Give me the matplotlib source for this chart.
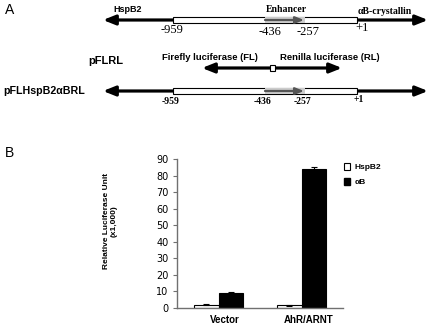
import numpy as np
import matplotlib.pyplot as plt
from matplotlib.patches import Rectangle, Patch

# relative luciferase units (x1,000)
groups = ['Vector', 'AhR/ARNT']
hspb2 = [2.0, 1.6]
hspb2_err = [0.2, 0.2]
ab = [9.2, 83.8]
ab_err = [0.5, 1.3]
y_ticks = list(range(0, 100, 10))

# landmarks on the promoter schematic (schematic x, not to scale)
site_labels = ['-959', '-436', '-257', '+1']
site_x = [173, 265, 305, 357]

SANS = 'Liberation Sans'
SERIF = 'Liberation Serif'

fig = plt.figure(figsize=(4.3, 3.26), dpi=100)

# panel A drawn on a full-figure axes in pixel units
top = fig.add_axes([0, 0, 1, 1])
top.set_xlim(0, 430)
top.set_ylim(326, 0)
top.axis('off')

head = '-|>,head_length=0.6,head_width=0.24'


def arrow(x0, x1, y, color='k', lw=2.3, ms=12):
    top.annotate('', xy=(x1, y), xytext=(x0, y),
                 arrowprops=dict(arrowstyle=head, color=color, lw=lw,
                                 mutation_scale=ms, shrinkA=0, shrinkB=0))


def construct(y):
    arrow(site_x[0], 103, y)
    arrow(site_x[3], 428, y)
    top.add_patch(Rectangle((site_x[0], y - 3), site_x[3] - site_x[0], 6,
                            fc='white', ec='k', lw=0.8, zorder=3))
    top.add_patch(Rectangle((site_x[1], y - 2.6), site_x[2] - site_x[1], 5.2,
                            fc='#cccccc', ec='none', zorder=4))
    top.annotate('', xy=(site_x[2] - 1, y), xytext=(site_x[1], y), zorder=5,
                 arrowprops=dict(arrowstyle='-|>,head_length=0.5,head_width=0.2',
                                 color='#555555', lw=1.6, mutation_scale=10,
                                 shrinkA=0, shrinkB=0))


top.text(5, 10, 'A', fontsize=10, family=SANS, va='center')
top.text(5, 153, 'B', fontsize=10, family=SANS, va='center')

# row 1: genomic region
construct(20)
top.text(128, 10, 'HspB2', fontsize=6.5, family=SANS, weight='bold', ha='center', va='center')
top.text(286, 9.5, 'Enhancer', fontsize=7, family=SERIF, weight='bold', ha='center', va='center')
top.text(358, 12, 'αB-crystallin', fontsize=7, family=SERIF, weight='bold', ha='left', va='center')
for lab, x, dx, dy in zip(site_labels, site_x, [-1, 5, 3, 5], [30, 32, 32, 28]):
    top.text(x + dx, dy, lab, fontsize=9, family=SERIF, ha='center', va='center')

# row 2: empty reporter pFLRL
top.text(106, 61, 'pFLRL', fontsize=8, family=SANS, weight='bold', ha='center', va='center')
top.text(210, 57, 'Firefly luciferase (FL)', fontsize=6.8, family=SANS, weight='bold',
         ha='center', va='center')
top.text(330, 57, 'Renilla luciferase (RL)', fontsize=6.8, family=SANS, weight='bold',
         ha='center', va='center')
arrow(270, 202, 68)
arrow(274, 342, 68)
top.add_patch(Rectangle((269.5, 65), 5, 6, fc='white', ec='k', lw=0.8, zorder=3))

# row 3: pFLHspB2aBRL
construct(91)
top.text(3, 91, 'pFLHspB2αBRL', fontsize=7.7, family=SANS, weight='bold', ha='left', va='center')
for lab, x, dx, dy in zip(site_labels, site_x, [-2, -2, -2, 2], [102, 102, 102, 100]):
    top.text(x + dx, dy, lab, fontsize=7, family=SERIF, weight='bold', ha='center', va='center')

# panel B bar chart
ax = fig.add_axes([177 / 430, 18 / 326, 166 / 430, 149 / 326])
x = np.arange(len(groups))
w = 0.29
ax.bar(x - w / 2, hspb2, w, yerr=hspb2_err, color='white', edgecolor='k', lw=0.8,
       error_kw=dict(ecolor='k', lw=0.8, capsize=2, capthick=0.8), label='HspB2')
ax.bar(x + w / 2, ab, w, yerr=ab_err, color='black', edgecolor='k', lw=0.8,
       error_kw=dict(ecolor='k', lw=0.8, capsize=2, capthick=0.8), label='αB')
ax.set_xlim(-0.5, 1.5)
ax.set_ylim(0, 90)
ax.set_yticks(y_ticks)
ax.set_yticklabels([str(t) for t in y_ticks], fontsize=7, family='DejaVu Sans')
ax.set_xticks(x + 0.08)
ax.set_xticklabels(groups, fontsize=7, family=SANS, weight='bold')
ax.tick_params(axis='x', length=0, pad=5)
ax.tick_params(axis='y', length=3, width=0.8, color='#707070', pad=3)
for s in ['top', 'right']:
    ax.spines[s].set_visible(False)
for s in ['left', 'bottom']:
    ax.spines[s].set_color('#707070')
    ax.spines[s].set_linewidth(1)
ax.set_ylabel('Relative Luciferase Unit\n(x1,000)', fontsize=6, family=SANS, weight='bold')
ax.yaxis.set_label_coords(-0.355, 0.585)

handles = [Patch(fc='white', ec='k', lw=0.8), Patch(fc='black', ec='k')]
fig.legend(handles, ['HspB2', 'αB'], loc='upper left',
           bbox_to_anchor=(344 / 430, 1 - 163 / 326), frameon=False,
           prop=dict(family=SANS, weight='bold', size=6), handlelength=0.7,
           handleheight=0.9, handletextpad=0.6, labelspacing=0.8,
           borderpad=0, borderaxespad=0)

fig.savefig('out.png', dpi=100)
